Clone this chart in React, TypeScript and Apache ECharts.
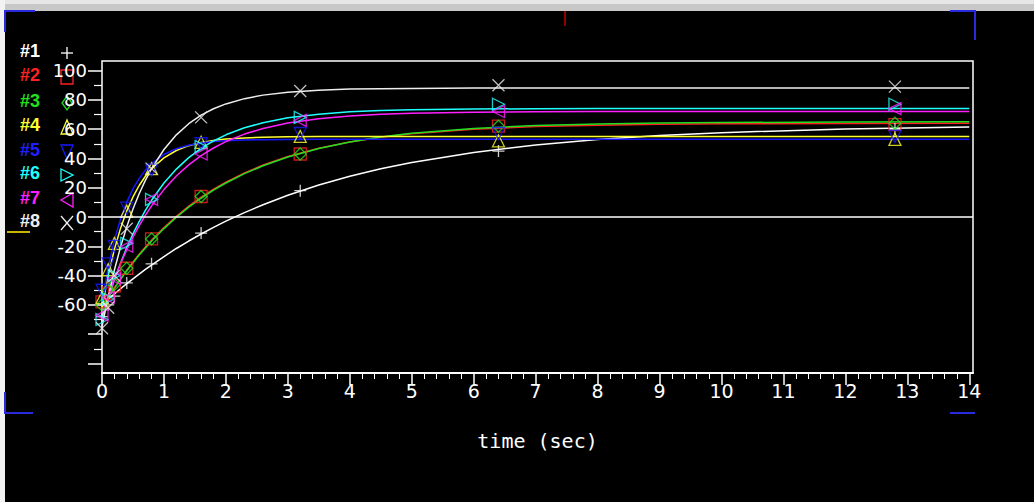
import React, { useEffect, useRef } from "react";
import * as echarts from "echarts";

// ---- data ----
const seriesNames = ["#1", "#2", "#3", "#4", "#5", "#6", "#7", "#8"];
const seriesColors = ["#ffffff", "#ff2020", "#20e020", "#ffff30", "#1818ff", "#20ffff", "#ff20ff", "#eeeeee"];

// measured points (time in sec)
const times = [0, 0.1, 0.2, 0.4, 0.8, 1.6, 3.2, 6.4, 12.8];
const pts1 = [-68, -60, -54, -45, -32, -11, 18, 45, 60];
const pts2 = [-58, -52, -47, -35, -15, 14, 43, 62, 63];
const pts3 = [-60, -50, -46, -35, -15, 14, 43, 62, 64];
const pts4 = [-55, -36, -18, 4, 33, 51, 55, 52, 53];
const pts5 = [-50, -32, -20, 6, 32, 50, 57, 57, 55];
const pts6 = [-70, -56, -40, -18, 12, 48, 68, 77, 77];
const pts7 = [-67, -55, -42, -20, 12, 43, 66, 72, 74];
const pts8 = [-76, -62, -40, -8, 33, 68, 86, 90, 89];

// fitted curves read at these times
const curveTimes = [0, 0.1, 0.2, 0.3, 0.4, 0.5, 0.6, 0.7, 0.8, 1.0, 1.2, 1.4, 1.6, 1.8, 2.0, 2.3, 2.6, 3.0, 3.5, 4, 4.5, 5, 6, 7, 8, 9, 10, 12, 14];
const fit1 = [-60, -56.2, -52.5, -49.0, -45.5, -42.2, -39.0, -35.8, -32.8, -27.0, -21.5, -16.4, -11.6, -7.1, -2.8, 3.0, 8.4, 14.8, 21.8, 27.8, 32.9, 37.2, 44.1, 49.2, 52.9, 55.6, 57.6, 60.1, 61.5];
const fit2 = [-62, -55.0, -48.4, -42.2, -36.3, -30.7, -25.4, -20.5, -15.8, -7.2, 0.5, 7.4, 13.5, 19.0, 23.8, 30.1, 35.5, 41.3, 47.0, 51.2, 54.4, 56.8, 59.9, 61.7, 62.7, 63.3, 63.6, 63.9, 64.0];
const fit3 = [-62, -55.1, -48.6, -42.5, -36.7, -31.2, -26.0, -21.1, -16.4, -7.9, -0.2, 6.7, 12.8, 18.3, 23.2, 29.6, 35.0, 41.0, 46.8, 51.2, 54.6, 57.1, 60.5, 62.4, 63.5, 64.1, 64.5, 64.8, 65.0];
const fit4 = [-62, -40.0, -22.1, -7.6, 4.2, 13.7, 21.5, 27.8, 32.9, 40.4, 45.4, 48.7, 50.8, 52.3, 53.2, 54.0, 54.5, 54.8, 55, 55, 55, 55, 55, 55, 55, 55, 55, 55, 55];
const fit5 = [-58, -34.5, -15.9, -1.3, 10.2, 19.2, 26.4, 32.0, 36.5, 42.7, 46.6, 49.0, 50.5, 51.5, 52.1, 52.5, 52.8, 52.9, 53, 53, 53, 53, 53, 53, 53, 53, 53, 53, 53];
const fit6 = [-70, -55.7, -42.9, -31.4, -20.9, -11.5, -3.1, 4.5, 11.4, 23.2, 32.7, 40.5, 46.8, 51.9, 56.1, 60.9, 64.4, 67.7, 70.2, 71.8, 72.7, 73.2, 73.7, 73.9, 74, 74, 74, 74, 74];
const fit7 = [-66, -53.5, -42.1, -31.7, -22.3, -13.7, -5.9, 1.2, 7.6, 18.7, 28.0, 35.6, 41.9, 47.1, 51.5, 56.6, 60.4, 64.1, 67.1, 68.9, 70.1, 70.8, 71.5, 71.8, 72, 72, 72, 72, 72];
const fit8 = [-75, -54.3, -36.2, -20.4, -6.7, 5.4, 15.9, 25.0, 33.0, 46.1, 56.1, 63.7, 69.5, 73.9, 77.2, 80.8, 83.2, 85.2, 86.6, 87.3, 87.6, 87.8, 88, 88, 88, 88, 88, 88, 88];

const xTickLabels = [0, 1, 2, 3, 4, 5, 6, 7, 8, 9, 10, 11, 12, 13, 14];
const yTickValues = [-100, -80, -60, -40, -20, 0, 20, 40, 60, 80, 100];
const yLabelValues = [-60, -40, -20, 0, 20, 40, 60, 80, 100];
const yMinorValues = [-90, -70, -50, -30, -10, 10, 30, 50, 70, 90];
const xAxisTitle = "time (sec)";

const allPoints = [pts1, pts2, pts3, pts4, pts5, pts6, pts7, pts8];
const allFits = [fit1, fit2, fit3, fit4, fit5, fit6, fit7, fit8];

// marker shapes (+, square, diamond, up, down, right, left, x)
const markerPaths = [
  "path://M5,0L5,10M0,5L10,5",
  "path://M0,0L10,0L10,10L0,10Z",
  "path://M5,0L10,5L5,10L0,5Z",
  "path://M5,0L10,10L0,10Z",
  "path://M0,0L10,0L5,10Z",
  "path://M0,0L10,5L0,10Z",
  "path://M10,0L0,5L10,10Z",
  "path://M0,0L10,10M10,0L0,10",
];

function legendShape(i: number, cx: number, cy: number, color: string): any {
  const st = { fill: null, stroke: color, lineWidth: 1.3 };
  const h = 6;
  switch (i) {
    case 0:
      return {
        type: "group",
        children: [
          { type: "line", shape: { x1: cx - h, y1: cy, x2: cx + h, y2: cy }, style: st },
          { type: "line", shape: { x1: cx, y1: cy - h, x2: cx, y2: cy + h }, style: st },
        ],
      };
    case 1:
      return { type: "rect", shape: { x: cx - h, y: cy - 7, width: 12, height: 14 }, style: st };
    case 2:
      return { type: "polygon", shape: { points: [[cx, cy - 7], [cx + 5, cy], [cx, cy + 7], [cx - 5, cy]] }, style: st };
    case 3:
      return { type: "polygon", shape: { points: [[cx, cy - 7], [cx + h, cy + 7], [cx - h, cy + 7]] }, style: st };
    case 4:
      return { type: "polygon", shape: { points: [[cx - h, cy - 7], [cx + h, cy - 7], [cx, cy + 7]] }, style: st };
    case 5:
      return { type: "polygon", shape: { points: [[cx - h, cy - 6], [cx + h, cy], [cx - h, cy + 6]] }, style: st };
    case 6:
      return { type: "polygon", shape: { points: [[cx + h, cy - 7], [cx - h, cy], [cx + h, cy + 7]] }, style: st };
    default:
      return {
        type: "group",
        children: [
          { type: "line", shape: { x1: cx - h, y1: cy - 7, x2: cx + h, y2: cy + 7 }, style: st },
          { type: "line", shape: { x1: cx + h, y1: cy - 7, x2: cx - h, y2: cy + 7 }, style: st },
        ],
      };
  }
}

export default function App() {
  const ref = useRef<HTMLDivElement>(null);

  useEffect(() => {
    if (!ref.current) return;
    const chart = echarts.init(ref.current, null, { renderer: "svg" });

    const xMinor: number[] = [];
    for (let k = 1; k < 70; k++) if (k % 5 !== 0) xMinor.push(k / 5);

    const legendRows = [52, 76, 102, 126, 151, 174, 199, 222];
    const graphics: any[] = [
      { type: "rect", shape: { x: 0, y: 0, width: 1034, height: 11 }, style: { fill: "#c8c8c8" } },
      { type: "rect", shape: { x: 0, y: 0, width: 1034, height: 4 }, style: { fill: "#e6e6e6" } },
      { type: "rect", shape: { x: 0, y: 0, width: 5, height: 502 }, style: { fill: "#f2f2f2" } },
      { type: "polyline", shape: { points: [[5, 32], [5, 11], [35, 11]] }, style: { stroke: "#2a2ae0", lineWidth: 2, fill: null } },
      { type: "polyline", shape: { points: [[950, 11], [975, 11], [975, 40]] }, style: { stroke: "#2a2ae0", lineWidth: 2, fill: null } },
      { type: "polyline", shape: { points: [[5, 392], [5, 413], [33, 413]] }, style: { stroke: "#2a2ae0", lineWidth: 2, fill: null } },
      { type: "line", shape: { x1: 950, y1: 413, x2: 975, y2: 413 }, style: { stroke: "#2a2ae0", lineWidth: 2 } },
      { type: "line", shape: { x1: 565, y1: 11, x2: 565, y2: 26 }, style: { stroke: "#c00000", lineWidth: 1.5 } },
      { type: "line", shape: { x1: 7, y1: 232, x2: 30, y2: 232 }, style: { stroke: "#c8b400", lineWidth: 2 } },
    ];
    seriesNames.forEach((nm, i) => {
      graphics.push({
        type: "text",
        left: 20,
        top: legendRows[i] - 10,
        style: {
          text: nm,
          fill: seriesColors[i] === "#1818ff" ? "#2020ff" : seriesColors[i],
          font: "bold 18px 'Liberation Sans', Arial, sans-serif",
        },
      });
      graphics.push(legendShape(i, 67, legendRows[i] + 1, seriesColors[i]));
    });

    const series: any[] = [];
    allFits.forEach((fit, i) => {
      series.push({
        type: "line",
        name: seriesNames[i] + " fit",
        data: curveTimes.map((t, j) => [t, fit[j]]),
        showSymbol: false,
        smooth: false,
        lineStyle: { color: seriesColors[i], width: 1.5 },
        z: 2,
        silent: true,
        ...(i === 0
          ? {
              markLine: {
                silent: true,
                symbol: "none",
                label: { show: false },
                lineStyle: { color: "#ffffff", width: 1.5, type: "solid" },
                data: [{ yAxis: 0 }],
              },
            }
          : {}),
      });
    });
    allPoints.forEach((pts, i) => {
      series.push({
        type: "scatter",
        name: seriesNames[i],
        data: times.map((t, j) => [t, pts[j]]),
        symbol: markerPaths[i],
        symbolSize: 12,
        itemStyle: { color: "rgba(0,0,0,0)", borderColor: seriesColors[i], borderWidth: 1.3 },
        z: 3,
        silent: true,
      });
    });

    const axisFont = { color: "#ffffff", fontFamily: "'DejaVu Sans', sans-serif" };

    chart.setOption({
      animation: false,
      backgroundColor: "#000000",
      grid: {
        left: 102,
        right: 61,
        top: 61,
        bottom: 129,
        show: true,
        borderColor: "#ffffff",
        borderWidth: 1.5,
        backgroundColor: "transparent",
      },
      xAxis: [
        {
          type: "value",
          min: 0,
          max: 14.06,
          position: "bottom",
          axisLine: { show: true, onZero: false, lineStyle: { color: "#ffffff", width: 2 } },
          axisTick: { show: true, length: 12, customValues: xTickLabels, lineStyle: { color: "#ffffff", width: 1.5 } },
          axisLabel: { show: true, customValues: xTickLabels, margin: 8, fontSize: 19, ...axisFont },
          splitLine: { show: false },
          name: xAxisTitle,
          nameLocation: "middle",
          nameGap: 58,
          nameTextStyle: { color: "#ffffff", fontSize: 20, fontFamily: "'DejaVu Sans Mono', monospace" },
        },
        {
          type: "value",
          min: 0,
          max: 14.06,
          position: "bottom",
          axisLine: { show: false, onZero: false },
          axisTick: { show: true, length: 6, customValues: xMinor, lineStyle: { color: "#ffffff", width: 1 } },
          axisLabel: { show: false },
          splitLine: { show: false },
        },
      ],
      yAxis: [
        {
          type: "value",
          min: -106.5,
          max: 106.5,
          position: "left",
          axisLine: { show: false, onZero: false },
          axisTick: { show: true, length: 14, customValues: yTickValues, lineStyle: { color: "#ffffff", width: 1.5 } },
          axisLabel: { show: true, customValues: yLabelValues, margin: 15, fontSize: 18, ...axisFont },
          splitLine: { show: false },
        },
        {
          type: "value",
          min: -106.5,
          max: 106.5,
          position: "left",
          axisLine: { show: false, onZero: false },
          axisTick: { show: true, length: 8, customValues: yMinorValues, lineStyle: { color: "#ffffff", width: 1.2 } },
          axisLabel: { show: false },
          splitLine: { show: false },
        },
      ],
      graphic: graphics,
      series,
    });

    return () => chart.dispose();
  }, []);

  return (
    <div
      ref={ref}
      style={{ position: "fixed", left: 0, top: 0, width: 1034, height: 502, background: "#000" }}
    />
  );
}
